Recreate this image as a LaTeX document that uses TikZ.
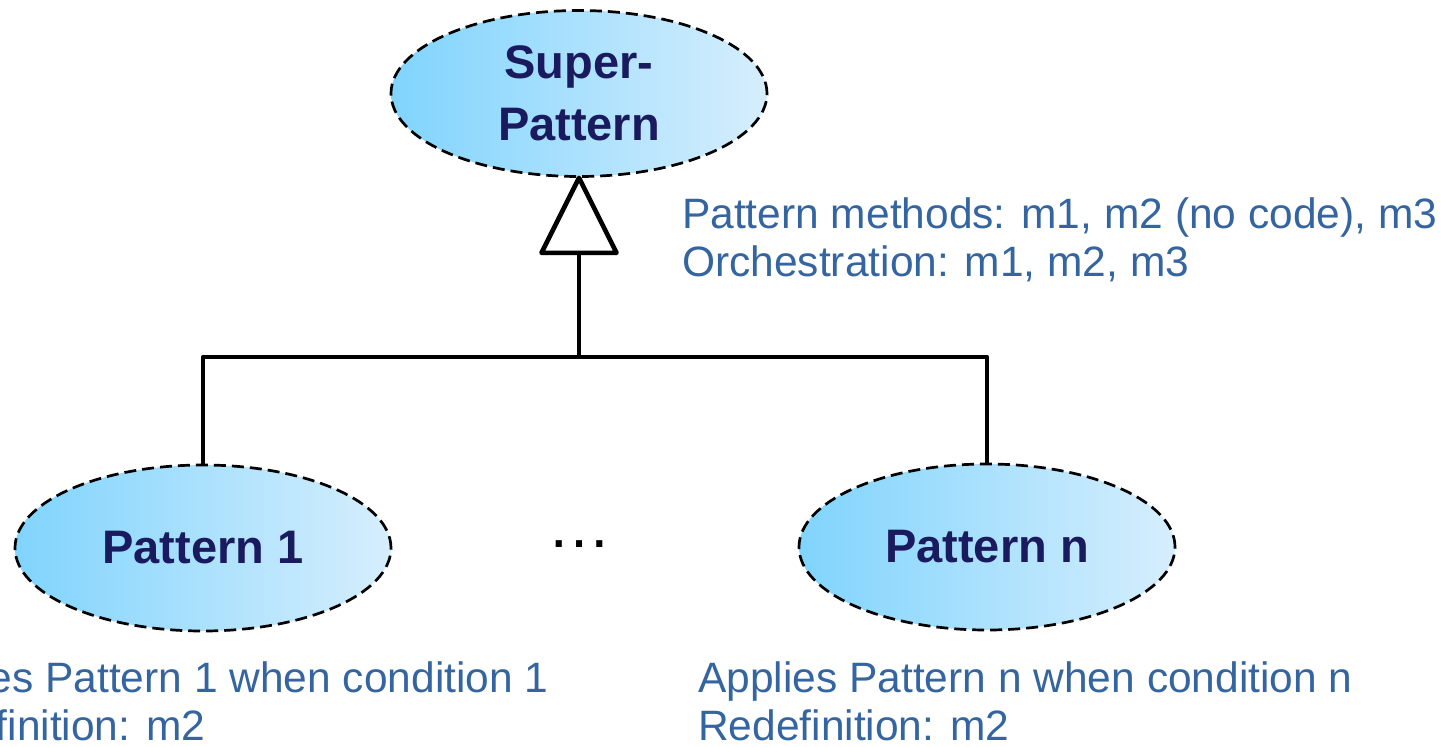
\documentclass[tikz,border=0pt]{standalone}
\usepackage{fontspec}
\setmainfont{Liberation Sans}
\usetikzlibrary{shapes.geometric}
\definecolor{titleblue}{RGB}{26,26,94}
\definecolor{noteblue}{RGB}{52,101,160}
\definecolor{fillleft}{RGB}{128,212,253}
\definecolor{fillright}{RGB}{214,238,253}
\tikzset{
  pattern/.style={ellipse, draw=black, line width=2.7pt, dash pattern=on 12pt off 6pt,
    left color=fillleft, right color=fillright, minimum width=376pt, minimum height=166pt,
    inner sep=0pt, text=titleblue, align=center,
    font=\fontsize{47}{62}\selectfont\bfseries},
  conn/.style={draw=black, line width=4.6pt, line join=round},
  note/.style={anchor=base west, inner sep=0pt, text=noteblue,
    font=\fontsize{42.5}{48}\selectfont}
}
\begin{document}
\begin{tikzpicture}[x=1pt, y=-1pt]
  \useasboundingbox (0,0) rectangle (1452,747);

  % pattern ellipses
  \node[pattern] (super) at (579,93.5) {Super-\\Pattern};
  \node[pattern] (p1) at (203,548) {Pattern 1};
  \node[pattern] (pn) at (987,547) {Pattern n};

  % generalisation: bus line and open triangle
  \coordinate (bus) at (579,357);
  \coordinate (tribase) at (579,250);
  \draw[conn] (p1.north) |- (bus) -| (pn.north);
  \draw[conn] (bus) -- (tribase);
  \draw[conn, fill=white] (super.south) -- ++(-37.5,75) -- ++(75,0) -- cycle;

  % ellipsis between the sub-patterns
  \node[anchor=base, inner sep=0pt, font=\fontsize{64}{64}\selectfont] (dots) at (579,547) {…};

  % annotations
  \node[note] (m1) at (682,228) {Pattern methods: m1, m2 (no code), m3};
  \node[note] (m2) at (682,276) {Orchestration: m1, m2, m3};
  \node[note] (a1) at (-106,692) {Applies Pattern 1 when condition 1};
  \node[note] (r1) at (-106,740) {Redefinition: m2};
  \node[note] (an) at (698,692) {Applies Pattern n when condition n};
  \node[note] (rn) at (698,740) {Redefinition: m2};
\end{tikzpicture}
\end{document}
